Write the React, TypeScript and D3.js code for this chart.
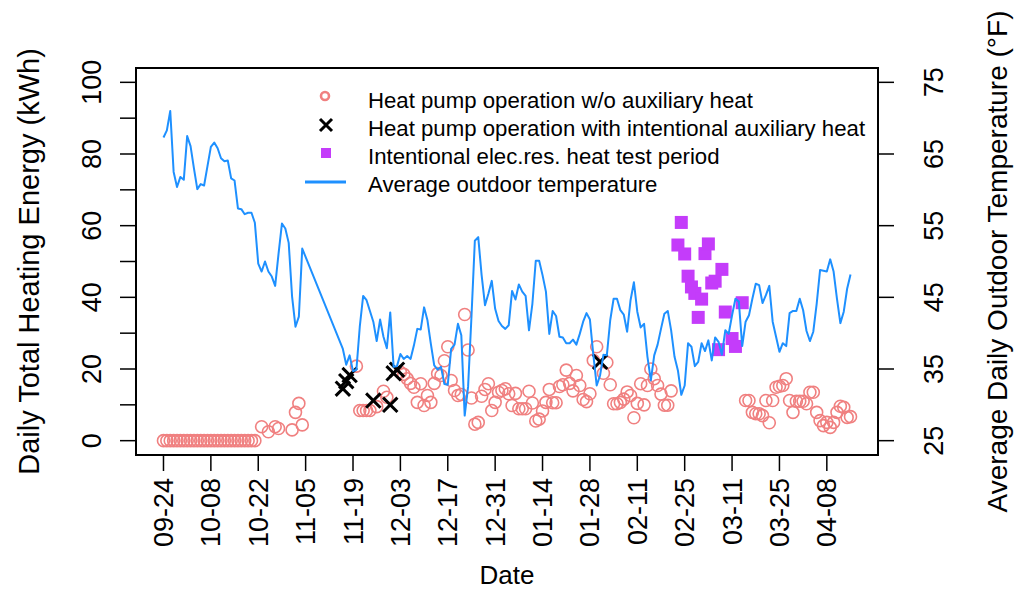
import React from "react";
import * as d3 from "d3";

const START = "2013-09-24";
const END_DAY = 203;

const xTickDates = [
  "2013-09-24", "2013-10-08", "2013-10-22", "2013-11-05", "2013-11-19",
  "2013-12-03", "2013-12-17", "2013-12-31", "2014-01-14", "2014-01-28",
  "2014-02-11", "2014-02-25", "2014-03-11", "2014-03-25", "2014-04-08",
];
const leftTicks = [0, 10, 20, 30, 40, 50, 60, 70, 80, 90, 100];
const leftLabels = [0, 20, 40, 60, 80, 100];
const rightTicks = [25, 35, 45, 55, 65, 75];

// Average outdoor temperature (°F), day offsets from START
const tempDays = [
  0, 1, 2, 3, 4, 5, 6, 7, 8, 9, 10, 11, 12, 13, 14, 15, 16, 17, 18, 19, 20,
  21, 22, 23, 24, 25, 26, 27, 28, 29, 30, 31, 32, 33, 34, 35, 36, 37, 38, 39, 40, 41,
  53, 54, 55, 56, 57, 58, 59, 60, 61, 62, 63, 64, 65, 66, 67, 68, 69, 70,
  71, 72, 73, 74, 75, 76, 77, 78, 79, 80, 81, 82, 83, 84, 85, 86, 87, 88, 89, 90,
  91, 92, 93, 94, 95, 96, 97, 98, 99, 100, 101, 102, 103, 104, 105, 106, 107, 108, 109, 110,
  111, 112, 113, 114, 115, 116, 117, 118, 119, 120, 121, 122, 123, 124, 125, 126, 127, 128, 129, 130,
  131, 132, 133, 134, 135, 136, 137, 138, 139, 140, 141, 142, 143, 144, 145, 146, 147, 148, 149, 150,
  151, 152, 153, 154, 155, 156, 157, 158, 159, 160, 161, 162, 163, 164, 165, 166, 167, 168, 169, 170,
  171, 172, 173, 174, 175, 176, 177, 178, 179, 180, 181, 182, 183, 184, 185, 186, 187, 188, 189, 190,
  191, 192, 193, 194, 195, 196, 197, 198, 199, 200, 201, 202, 203,
];
const tempF = [
  67.3, 68.3, 71.0, 62.5, 60.4, 61.8, 61.4, 67.5, 66.1, 63.0, 60.1, 60.8, 60.6, 63.3, 66.0, 66.6, 65.8, 64.4, 64.0, 64.1, 61.6,
  61.3, 57.4, 57.3, 56.6, 56.8, 56.8, 55.4, 49.7, 48.6, 50.0, 48.6, 47.9, 46.6, 51.1, 55.3, 54.6, 52.6, 45.1, 40.9, 42.3, 51.8,
  37.8, 35.6, 36.9, 34.7, 34.9, 40.9, 45.2, 44.6, 43.1, 41.6, 38.9, 41.9, 39.5, 37.9, 42.9, 35.3, 35.4, 37.1,
  36.4, 36.8, 36.4, 38.3, 40.6, 40.5, 43.6, 41.8, 38.5, 35.5, 34.9, 35.3, 32.9, 32.8, 37.8, 38.4, 41.3, 39.7, 28.5, 32.5,
  42.3, 52.9, 53.4, 48.1, 43.9, 45.5, 47.3, 43.4, 41.7, 41.0, 40.6, 41.1, 45.9, 44.7, 46.8, 45.8, 45.2, 40.4, 44.1, 50.1,
  50.1, 48.1, 45.8, 39.9, 43.1, 42.4, 39.5, 39.4, 38.6, 38.6, 39.1, 38.4, 39.9, 41.6, 42.8, 41.9, 37.0, 32.7, 34.1, 37.0,
  36.9, 41.8, 44.8, 44.8, 43.2, 42.6, 40.2, 44.6, 47.1, 43.0, 40.8, 41.3, 36.7, 33.4, 36.9, 38.4, 40.6, 42.7, 43.1, 40.4,
  36.7, 34.8, 31.4, 32.7, 38.6, 38.1, 35.4, 36.0, 38.6, 37.5, 39.0, 36.2, 39.4, 38.8, 37.0, 40.4, 39.9, 42.5, 44.8, 44.4,
  38.2, 41.6, 42.5, 44.8, 46.9, 46.7, 44.2, 45.3, 46.6, 41.6, 39.5, 37.4, 38.6, 38.2, 42.8, 43.1, 43.1, 44.8, 43.2, 40.3,
  38.9, 40.2, 44.1, 48.8, 48.7, 48.6, 50.3, 48.6, 44.8, 41.4, 43.0, 46.2, 48.2,
];

// Heat pump operation w/o auxiliary heat (kWh)
const hpDays = [
  0, 1, 2, 3, 4, 5, 6, 7, 8, 9, 10, 11, 12, 13, 14, 15, 16, 17, 18, 19, 20, 21, 22, 23, 24, 25, 26, 27,
  29, 31, 33, 34, 38, 39, 40, 41,
  57, 58, 59, 60, 61, 63, 65, 66,
  70, 71, 72, 73, 74, 75, 76, 77, 78, 79, 80, 81, 82, 83, 84, 85, 86, 87, 88, 89, 90,
  91, 92, 93, 94, 95, 96, 97, 98, 99, 100, 101, 102, 103, 104, 105, 106, 107, 108, 109, 110,
  111, 112, 113, 114, 115, 116, 117, 118, 119, 120, 121, 122, 123, 124, 125, 126, 127, 128, 130,
  131, 132, 133, 134, 135, 136, 137, 138, 139, 140, 141, 142, 143, 144, 145, 146, 147, 148, 149, 150,
  172, 173, 174, 175, 176, 177, 178, 179, 180, 181, 182, 183, 184, 185, 186, 187, 188, 189, 190,
  191, 192, 193, 194, 195, 196, 197, 198, 199, 200, 201, 202, 203,
];
const hpKWh = [
  0, 0, 0, 0, 0, 0, 0, 0, 0, 0, 0, 0, 0, 0, 0, 0, 0, 0, 0, 0, 0, 0, 0, 0, 0, 0, 0, 0,
  3.9, 2.5, 3.9, 3.4, 3.0, 7.9, 10.4, 4.4,
  20.8, 8.4, 8.4, 8.4, 8.4, 9.5, 13.8, 12.1,
  19.1, 18.5, 17.3, 16.0, 14.9, 10.7, 15.9, 9.8, 12.6, 10.7, 16.0, 18.7, 18.2, 22.3, 26.2, 16.8, 14.0, 12.6, 12.9, 35.2, 25.3,
  11.9, 4.6, 5.1, 12.4, 14.3, 15.9, 8.4, 10.7, 13.5, 14.0, 14.5, 13.1, 9.8, 13.2, 8.9, 8.9, 8.9, 13.8, 10.5, 5.5,
  6.0, 8.3, 10.7, 14.3, 10.6, 10.6, 15.1, 15.6, 19.7, 16.0, 13.9, 18.2, 15.4, 11.5, 10.9, 13.1, 22.4, 26.2, 18.8,
  21.8, 15.6, 10.3, 10.3, 10.7, 11.6, 13.6, 12.6, 6.4, 10.4, 15.9, 10.0, 15.4, 20.0, 17.3, 15.4, 13.0, 9.9, 9.9, 13.9,
  11.2, 11.2, 7.9, 7.5, 7.5, 7.0, 11.2, 5.0, 11.2, 14.9, 15.2, 15.4, 17.3, 11.2, 7.9, 11.0, 11.0, 11.0, 10.3,
  13.5, 13.5, 7.9, 5.6, 4.2, 5.1, 3.7, 5.1, 7.9, 9.6, 9.3, 6.5, 6.7,
];

// Heat pump operation with intentional auxiliary heat (kWh)
const auxDays = [53, 54, 55, 62, 67, 68, 69, 129];
const auxKWh = [14.5, 16.6, 18.3, 11.2, 10.0, 18.8, 19.8, 22.0];

// Intentional elec.res. heat test period (kWh)
const resDays = [152, 153, 154, 155, 156, 157, 158, 159, 160, 161, 162, 163, 164, 165, 166, 168, 169, 171];
const resKWh = [54.6, 60.9, 52.1, 45.9, 42.9, 41.1, 34.4, 39.5, 52.2, 54.9, 44.0, 44.5, 25.4, 47.8, 35.9, 28.5, 26.3, 38.5];

const legendLabels = [
  "Heat pump operation w/o auxiliary heat",
  "Heat pump operation with intentional auxiliary heat",
  "Intentional elec.res. heat test period",
  "Average outdoor temperature",
];

const FONT = "'Liberation Sans', Arial, Helvetica, sans-serif";
const RED = "#F08080";
const BLUE = "#1E90FF";
const PURPLE = "#C43CFA";

export default function App() {
  const parse = d3.utcParse("%Y-%m-%d");
  const t0 = parse(START) as Date;
  const toDate = (d: number) => d3.utcDay.offset(t0, d);
  const dMin = +toDate(0);
  const dMax = +toDate(END_DAY);
  const pad = (dMax - dMin) * 0.04;

  const L = 136, R = 878, T = 68, B = 455;
  const x = d3.scaleUtc().domain([new Date(dMin - pad), new Date(dMax + pad)]).range([L, R]);
  const y = d3.scaleLinear().domain([-4, 104]).range([B, T]);
  const yT = d3.scaleLinear().domain([23, 77]).range([B, T]);
  const fmt = d3.utcFormat("%m-%d");

  const line = d3
    .line<number>()
    .x((_, i) => x(toDate(tempDays[i])))
    .y((v) => yT(v));

  const xs = 7.2;
  const sq = 13;

  return (
    <svg
      width={1015}
      height={590}
      style={{ position: "absolute", left: 0, top: 0, background: "#fff" }}
      fontFamily={FONT}
    >
      <rect x={0} y={0} width={1015} height={590} fill="#fff" />

      {/* heat pump circles */}
      {hpDays.map((d, i) => (
        <circle
          key={"hp" + i}
          cx={x(toDate(d))}
          cy={y(hpKWh[i])}
          r={6}
          fill="none"
          stroke={RED}
          strokeWidth={1.6}
        />
      ))}

      {/* resistance test squares */}
      {resDays.map((d, i) => (
        <rect
          key={"rs" + i}
          x={x(toDate(d)) - sq / 2}
          y={y(resKWh[i]) - sq / 2}
          width={sq}
          height={sq}
          fill={PURPLE}
        />
      ))}

      {/* aux crosses */}
      {auxDays.map((d, i) => {
        const cx = x(toDate(d));
        const cy = y(auxKWh[i]);
        return (
          <path
            key={"ax" + i}
            d={`M${cx - xs},${cy - xs}L${cx + xs},${cy + xs}M${cx - xs},${cy + xs}L${cx + xs},${cy - xs}`}
            stroke="#000"
            strokeWidth={3}
            fill="none"
          />
        );
      })}

      {/* temperature line */}
      <path d={line(tempF) || ""} fill="none" stroke={BLUE} strokeWidth={2} strokeLinejoin="round" />

      {/* box */}
      <rect x={L} y={T} width={R - L} height={B - T} fill="none" stroke="#000" strokeWidth={2} />

      {/* left axis */}
      {leftTicks.map((v) => (
        <line key={"lt" + v} x1={L - 16} x2={L} y1={y(v)} y2={y(v)} stroke="#000" strokeWidth={1.5} />
      ))}
      {leftLabels.map((v) => (
        <text
          key={"ll" + v}
          transform={`translate(101,${y(v)}) rotate(-90)`}
          textAnchor="middle"
          fontSize={27}
          fill="#000"
        >
          {v}
        </text>
      ))}
      <text transform={`translate(39,${(T + B) / 2}) rotate(-90)`} textAnchor="middle" fontSize={29}>
        Daily Total Heating Energy (kWh)
      </text>

      {/* right axis */}
      {rightTicks.map((v) => (
        <line key={"rt" + v} x1={R} x2={R + 16} y1={yT(v)} y2={yT(v)} stroke="#000" strokeWidth={1.5} />
      ))}
      {rightTicks.map((v) => (
        <text
          key={"rl" + v}
          transform={`translate(943,${yT(v)}) rotate(-90)`}
          textAnchor="middle"
          fontSize={27}
        >
          {v}
        </text>
      ))}
      <text transform={`translate(1007,${(T + B) / 2}) rotate(-90)`} textAnchor="middle" fontSize={28}>
        Average Daily Outdoor Temperature (°F)
      </text>

      {/* x axis */}
      {xTickDates.map((s) => {
        const dt = parse(s) as Date;
        const px = x(dt);
        return (
          <g key={s}>
            <line x1={px} x2={px} y1={B} y2={B + 16} stroke="#000" strokeWidth={1.5} />
            <text transform={`translate(${px + 9.5},478) rotate(-90)`} textAnchor="end" fontSize={27}>
              {fmt(dt)}
            </text>
          </g>
        );
      })}
      <text x={(L + R) / 2} y={584} textAnchor="middle" fontSize={26}>
        Date
      </text>

      {/* legend */}
      <g fontSize={22.2}>
        <circle cx={325} cy={96} r={4} fill="none" stroke={RED} strokeWidth={2.6} />
        <path d="M320,119L332,131M320,131L332,119" stroke="#000" strokeWidth={3} />
        <rect x={321} y={148} width={10} height={10} fill={PURPLE} />
        <line x1={305} x2={346} y1={182} y2={182} stroke={BLUE} strokeWidth={3} />
        {legendLabels.map((s, i) => (
          <text key={s} x={368} y={108 + i * 28}>
            {s}
          </text>
        ))}
      </g>
    </svg>
  );
}
